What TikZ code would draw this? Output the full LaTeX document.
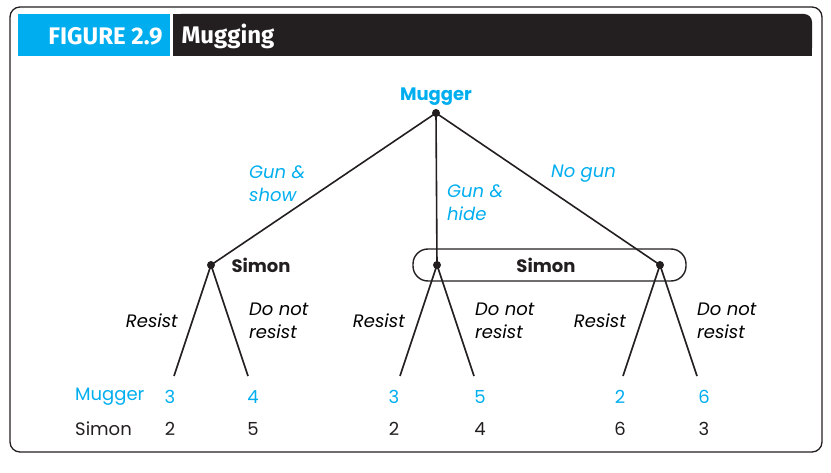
\documentclass[tikz,border=0pt]{standalone}
\usepackage{fontspec}
\setmainfont{Poppins}
\newfontfamily\headfont{Fira Sans}
\usetikzlibrary{positioning}
\definecolor{figBlue}{RGB}{0,174,239}
\definecolor{figDark}{RGB}{35,31,32}

\begin{document}
\begin{tikzpicture}[
    x=1pt, y=-1pt,
    font=\fontsize{18}{23}\selectfont,
    decision/.style={circle, fill=figDark, inner sep=0pt, minimum size=8pt},
    branch/.style={draw=figDark, line width=1.6pt},
    player/.style={font=\fontsize{18}{23}\selectfont\bfseries, text=figDark},
    move/.style={font=\fontsize{18}{23}\selectfont\itshape, align=left, anchor=west, inner sep=0pt},
    payoff/.style={font=\fontsize{18}{23}\selectfont, inner sep=0pt},
    heading/.style={font=\headfont\fontsize{24}{28}\selectfont\bfseries, text=white}
  ]
    \useasboundingbox (0,0) rectangle (831,473);
    % frame and title bar
    \draw[figDark, line width=1.3pt, rounded corners=10pt] (10,7) rectangle (822,452);
    \fill[figBlue] (18,14) rectangle (170,56);
    \fill[figDark, rounded corners=8pt] (173,56) -- (173,14) -- (812,14) -- (812,56) -- cycle;
    \fill[figDark] (173,14) rectangle (180,56);
    \fill[figDark] (800,40) rectangle (812,56);
    \node[heading, anchor=east] (fignum) at (166,36) {FIGURE 2.9};
    \node[heading, anchor=west] (figtitle) at (178,36) {Mugging};

    % decision nodes
    \coordinate (m) at (436,113);
    \coordinate (s1) at (211,265);
    \coordinate (s2) at (437,265);
    \coordinate (s3) at (660,265);
    \node[player, text=figBlue, above=4pt of m] (mlab) {Mugger};
    \node[player, anchor=west] (s1lab) at (228,265) {Simon};

    % information set
    \draw[figDark, line width=1.4pt, rounded corners=15pt] (413,249) rectangle (686,281);
    \node[player] (s23lab) at (546,265) {Simon};

    % terminal ends
    \coordinate (t1) at (174,376);
    \coordinate (t2) at (248,376);
    \coordinate (t3) at (400,376);
    \coordinate (t4) at (474,376);
    \coordinate (t5) at (623,376);
    \coordinate (t6) at (697,376);

    % branches
    \draw[branch] (m) -- (s1);
    \draw[branch] (m) -- (s2);
    \draw[branch] (m) -- (s3);
    \draw[branch] (s1) -- (t1);
    \draw[branch] (s1) -- (t2);
    \draw[branch] (s2) -- (t3);
    \draw[branch] (s2) -- (t4);
    \draw[branch] (s3) -- (t5);
    \draw[branch] (s3) -- (t6);
    \foreach \n in {m,s1,s2,s3} \node[decision] at (\n) {};

    % moves
    \node[move, text=figBlue] (gshow) at (249,184) {Gun \&\\show};
    \node[move, text=figBlue] (ghide) at (447,203) {Gun \&\\hide};
    \node[move, text=figBlue] (nogun) at (551,174) {No gun};
    \node[move, anchor=east] (r1) at (178,321) {Resist};
    \node[move] (d1) at (249,321) {Do not\\resist};
    \node[move, anchor=east] (r2) at (405,321) {Resist};
    \node[move] (d2) at (475,321) {Do not\\resist};
    \node[move, anchor=east] (r3) at (626,321) {Resist};
    \node[move] (d3) at (697,321) {Do not\\resist};

    % payoffs
    \node[payoff, text=figBlue, anchor=west] (rowm) at (75,397) {Mugger};
    \node[payoff, text=figDark, anchor=west] (rows) at (75,429) {Simon};
    \node[payoff, text=figBlue] (pm1) at (170,397) {3};
    \node[payoff, text=figBlue] (pm2) at (253,397) {4};
    \node[payoff, text=figBlue] (pm3) at (394,397) {3};
    \node[payoff, text=figBlue] (pm4) at (480,397) {5};
    \node[payoff, text=figBlue] (pm5) at (620,397) {2};
    \node[payoff, text=figBlue] (pm6) at (704,397) {6};
    \node[payoff, text=figDark] (ps1) at (170,429) {2};
    \node[payoff, text=figDark] (ps2) at (253,429) {5};
    \node[payoff, text=figDark] (ps3) at (394,429) {2};
    \node[payoff, text=figDark] (ps4) at (480,429) {4};
    \node[payoff, text=figDark] (ps5) at (620,429) {6};
    \node[payoff, text=figDark] (ps6) at (704,429) {3};
  \end{tikzpicture}
\end{document}
